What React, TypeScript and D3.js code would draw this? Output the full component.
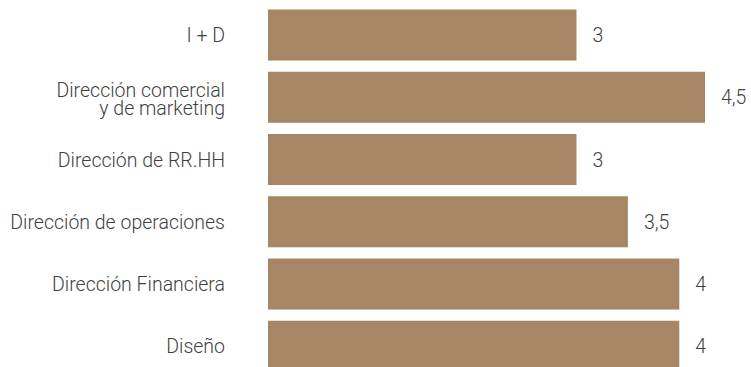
import React from "react";
import * as d3 from "d3";

const categories: string[][] = [
  ["I + D"],
  ["Dirección comercial", "y de marketing"],
  ["Dirección de RR.HH"],
  ["Dirección de operaciones"],
  ["Dirección Financiera"],
  ["Diseño"],
];
const values: number[] = [3, 4.5, 3, 3.5, 4, 4];
const valueLabels: string[] = ["3", "4,5", "3", "3,5", "4", "4"];
const axisMax = 4.25;

const W = 751;
const H = 367;
const plotLeft = 268;
const plotRight = 705;
const BAR = "#a68664";
const TEXT = "#3f3f3f";
const FONT = "Roboto, 'Liberation Sans', sans-serif";
const FS = 19.5;

export default function App() {
  const keys = categories.map((_, i) => String(i));
  const y = d3
    .scaleBand<string>()
    .domain(keys)
    .range([3.9, 3.9 + 6 * 62.25])
    .paddingInner(0.18)
    .paddingOuter(0.09);
  const x = d3.scaleLinear().domain([0, axisMax]).range([plotLeft, plotRight]);

  return (
    <svg
      width={W}
      height={H}
      style={{ position: "absolute", left: 0, top: 0 }}
      fontFamily={FONT}
    >
      <defs>
        <clipPath id="plot">
          <rect x={plotLeft} y={0} width={plotRight - plotLeft} height={H} />
        </clipPath>
      </defs>
      <rect width={W} height={H} fill="#ffffff" />
      <g clipPath="url(#plot)">
        {values.map((v, i) => (
          <rect
            key={i}
            x={x(0)}
            y={y(keys[i])}
            width={x(v) - x(0)}
            height={y.bandwidth()}
            fill={BAR}
          />
        ))}
      </g>
      {values.map((v, i) => {
        const cy = (y(keys[i]) as number) + y.bandwidth() / 2;
        const end = Math.min(x(v), plotRight);
        return (
          <text
            key={"v" + i}
            x={end + 16}
            y={cy}
            dy="0.36em"
            fontSize={FS}
            fontWeight={300}
            fill={TEXT}
          >
            {valueLabels[i]}
          </text>
        );
      })}
      {categories.map((lines, i) => {
        const cy = (y(keys[i]) as number) + y.bandwidth() / 2;
        const lh = 18;
        const start = cy + (lines.length > 1 ? 1.5 : 0) - ((lines.length - 1) * lh) / 2;
        return (
          <text
            key={"c" + i}
            x={225}
            textAnchor="end"
            fontSize={FS}
            fontWeight={300}
            fill={TEXT}
          >
            {lines.map((l, j) => (
              <tspan key={j} x={225} y={start + j * lh} dy="0.36em">
                {l}
              </tspan>
            ))}
          </text>
        );
      })}
    </svg>
  );
}
